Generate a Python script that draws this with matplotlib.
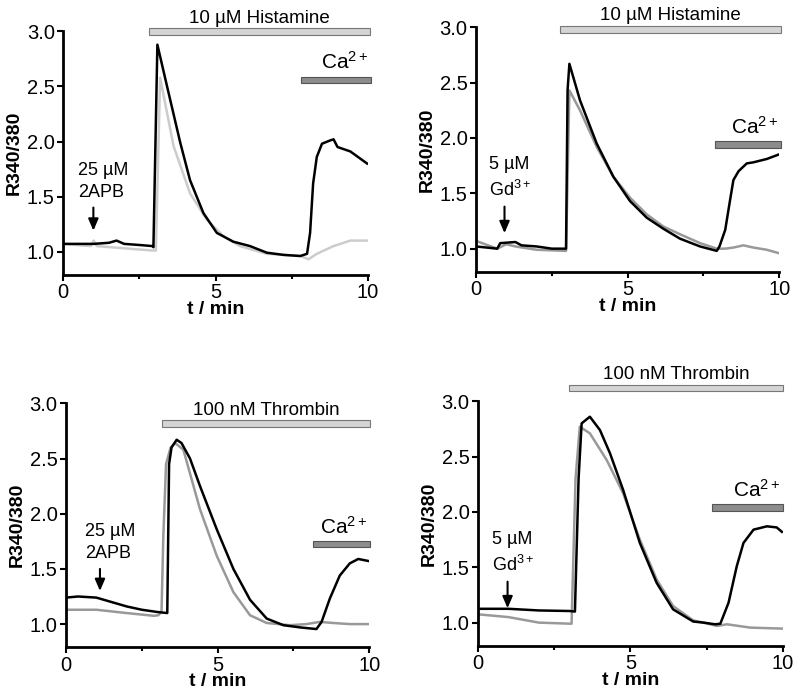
import matplotlib
matplotlib.use("Agg")
import matplotlib.pyplot as plt
from matplotlib.ticker import MultipleLocator

plt.rcParams['font.family'] = ['Liberation Sans', 'DejaVu Sans']
plt.rcParams['mathtext.fontset'] = 'custom'
plt.rcParams['mathtext.rm'] = 'Liberation Sans'
plt.rcParams['mathtext.default'] = 'regular'

# ---- data ----
# panel A: histamine + 2APB
a_t_black = [0, 1.0, 1.5, 1.75, 2.0, 2.5, 2.93, 2.96, 3.09, 3.4, 3.84, 4.16, 4.6, 5.04, 5.58,
             6.13, 6.68, 7.23, 7.78, 8.0, 8.1, 8.2, 8.32, 8.49, 8.76, 8.87, 9.0, 9.42, 9.97]
a_y_black = [1.07, 1.07, 1.08, 1.10, 1.07, 1.06, 1.05, 1.04, 2.88, 2.51, 1.99, 1.65, 1.35, 1.17, 1.09,
             1.05, 0.99, 0.97, 0.96, 0.98, 1.17, 1.62, 1.86, 1.98, 2.01, 2.02, 1.95, 1.91, 1.80]
a_t_gray = [0, 0.9, 1.0, 1.1, 2.0, 2.9, 3.04, 3.18, 3.62, 4.16, 4.71, 5.26, 5.8, 6.68,
            7.78, 8.05, 8.32, 8.87, 9.42, 9.97]
a_y_gray = [1.07, 1.05, 1.10, 1.05, 1.03, 1.01, 1.01, 2.58, 1.96, 1.53, 1.29, 1.14, 1.05, 0.98,
            0.96, 0.93, 0.98, 1.05, 1.10, 1.10]

# panel B: histamine + Gd3+
b_t_black = [0, 0.7, 0.8, 1.3, 1.5, 2.0, 2.5, 2.97, 3.02, 3.08, 3.43, 3.98, 4.53, 5.08, 5.63,
             6.18, 6.73, 7.39, 7.94, 8.03, 8.22, 8.38, 8.49, 8.66, 8.93, 9.15, 9.59, 9.98]
b_y_black = [1.02, 1.00, 1.05, 1.06, 1.03, 1.02, 1.00, 1.00, 2.43, 2.67, 2.34, 1.95, 1.65, 1.43, 1.28,
             1.18, 1.09, 1.02, 0.98, 1.02, 1.17, 1.44, 1.62, 1.70, 1.77, 1.78, 1.81, 1.85]
b_t_gray = [0, 0.4, 0.7, 1.0, 1.3, 2.0, 2.97, 3.08, 3.43, 3.98, 4.53, 5.08, 5.63, 6.18, 6.73,
            7.39, 7.94, 8.22, 8.49, 8.82, 9.15, 9.59, 9.98]
b_y_gray = [1.07, 1.03, 1.00, 1.04, 1.02, 0.99, 0.98, 2.43, 2.25, 1.92, 1.65, 1.46, 1.31, 1.20, 1.13,
            1.05, 1.00, 1.00, 1.01, 1.03, 1.01, 0.99, 0.96]

# panel C: thrombin + 2APB
c_t_black = [0, 0.4, 1.0, 1.5, 2.0, 2.5, 3.0, 3.34, 3.40, 3.48, 3.65, 3.81, 4.09, 4.42, 4.97,
             5.52, 6.07, 6.62, 7.17, 7.72, 8.26, 8.43, 8.7, 9.03, 9.36, 9.64, 10.0]
c_y_black = [1.24, 1.25, 1.24, 1.20, 1.16, 1.13, 1.11, 1.10, 2.45, 2.60, 2.67, 2.64, 2.50, 2.25, 1.86,
             1.50, 1.22, 1.05, 0.99, 0.97, 0.955, 1.02, 1.23, 1.44, 1.55, 1.59, 1.57]
c_t_gray = [0, 1.0, 2.0, 2.9, 3.04, 3.15, 3.21, 3.3, 3.45, 3.6, 3.87, 4.42, 4.97, 5.52, 6.07,
            6.62, 7.38, 7.93, 8.37, 8.81, 9.36, 10.0]
c_y_gray = [1.13, 1.13, 1.10, 1.075, 1.08, 1.11, 1.80, 2.45, 2.60, 2.64, 2.58, 2.04, 1.62, 1.29, 1.08,
            1.01, 0.99, 1.00, 1.02, 1.01, 1.00, 1.00]

# panel D: thrombin + Gd3+
d_t_black = [0, 1.0, 2.0, 3.0, 3.18, 3.3, 3.4, 3.67, 4.0, 4.33, 4.76, 5.31, 5.86, 6.4, 7.06,
             7.4, 7.78, 7.95, 8.22, 8.49, 8.71, 9.04, 9.48, 9.8, 9.97]
d_y_black = [1.125, 1.125, 1.11, 1.105, 1.10, 2.30, 2.80, 2.86, 2.74, 2.53, 2.20, 1.72, 1.36, 1.12, 1.01,
             1.00, 0.985, 0.99, 1.18, 1.51, 1.72, 1.84, 1.87, 1.86, 1.82]
d_t_gray = [0, 1.0, 2.0, 3.07, 3.2, 3.34, 3.67, 4.22, 4.76, 5.31, 5.86, 6.4, 7.06, 7.4,
            7.84, 8.17, 8.93, 9.97]
d_y_gray = [1.075, 1.05, 1.00, 0.99, 2.30, 2.77, 2.71, 2.47, 2.17, 1.75, 1.39, 1.15, 1.02, 1.00,
            0.97, 0.985, 0.955, 0.946]

# treatment bars: (start, end, y centre)
agonist_labels = ['10 µM Histamine', '10 µM Histamine', '100 nM Thrombin', '100 nM Thrombin']
agonist_bars = [(2.82, 10.07, 3.0), (2.77, 10.05, 2.98), (3.18, 10.02, 2.815), (3.0, 10.02, 3.12)]
ca_bars = [(7.8, 10.1, 2.56), (7.89, 10.05, 1.94), (8.15, 10.04, 1.725), (7.67, 10.02, 2.04)]
inhib_labels = ['25 µM\n2APB', '5 µM\nGd$^{3+}$', '25 µM\n2APB', '5 µM\nGd$^{3+}$']
inhib_time = [0.99, 0.94, 1.12, 0.97]
arrow_y = [(1.40, 1.19), (1.38, 1.14), (1.50, 1.30), (1.37, 1.13)]

panels = [
    (a_t_black, a_y_black, a_t_gray, a_y_gray, '#cccccc'),
    (b_t_black, b_y_black, b_t_gray, b_y_gray, '#999999'),
    (c_t_black, c_y_black, c_t_gray, c_y_gray, '#999999'),
    (d_t_black, d_y_black, d_t_gray, d_y_gray, '#999999'),
]

axes_pos = [[0.079, 0.607, 0.381, 0.348],
            [0.595, 0.611, 0.379, 0.350],
            [0.0825, 0.074, 0.379, 0.349],
            [0.5975, 0.076, 0.381, 0.350]]

fig = plt.figure(figsize=(8, 6.99), dpi=100)

for i, (tb, yb, tg, yg, gcol) in enumerate(panels):
    ax = fig.add_axes(axes_pos[i])
    ax.plot(tg, yg, color=gcol, lw=1.8)
    ax.plot(tb, yb, color='black', lw=1.8)

    ax.set_xlim(0, 10)
    ax.set_ylim(0.79, 3.0)
    ax.set_xticks([0, 5, 10])
    ax.xaxis.set_minor_locator(MultipleLocator(2.5))
    ax.set_yticks([1.0, 1.5, 2.0, 2.5, 3.0])
    ax.set_yticklabels(['1.0', '1.5', '2.0', '2.5', '3.0'])
    for s in ['top', 'right']:
        ax.spines[s].set_visible(False)
    for s in ['left', 'bottom']:
        ax.spines[s].set_linewidth(2)
    ax.tick_params(axis='both', which='major', direction='out', length=4, width=1.5,
                   labelsize=14.5, pad=2)
    ax.tick_params(axis='x', which='minor', direction='out', length=3, width=1.5)
    ax.set_ylabel('R340/380', fontsize=14, fontweight='bold', labelpad=3)
    ax.set_xlabel('t / min', fontsize=14, fontweight='bold', labelpad=-1)

    # agonist bar
    s, e, yc = agonist_bars[i]
    ax.barh(yc, e - s, left=s, height=0.06, color='#d4d4d4', edgecolor='#777777',
            linewidth=0.8, clip_on=False)
    ax.text((s + e) / 2, yc + 0.045, agonist_labels[i], ha='center', va='bottom',
            fontsize=13.5, clip_on=False)

    # Ca2+ bar
    s, e, yc = ca_bars[i]
    ax.barh(yc, e - s, left=s, height=0.06, color='#8c8c8c', edgecolor='#555555',
            linewidth=0.8, clip_on=False)
    ax.text(e - 0.08, yc + 0.06, 'Ca$^{2+}$', ha='right', va='bottom', fontsize=15,
            clip_on=False)

    # inhibitor arrow
    y0, y1 = arrow_y[i]
    ax.annotate('', xy=(inhib_time[i], y1), xytext=(inhib_time[i], y0),
                arrowprops=dict(arrowstyle='-|>,head_width=0.3,head_length=0.7',
                                color='black', lw=1.5, shrinkA=0, shrinkB=0))
    ax.text(inhib_time[i] - 0.5, y0 + 0.06, inhib_labels[i], ha='left', va='bottom',
            fontsize=13, linespacing=1.4)

fig.savefig('out.png', dpi=100)
